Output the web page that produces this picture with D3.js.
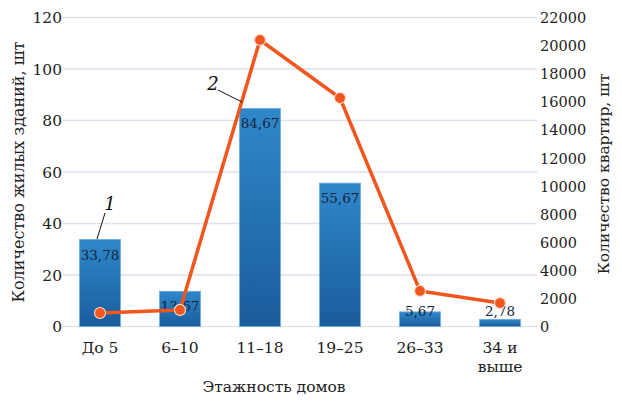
<!DOCTYPE html>
<html><head><meta charset="utf-8">
<script src="https://cdn.jsdelivr.net/npm/d3@7"></script>
<style>
html,body{margin:0;padding:0;background:#fff;}
</style>
</head><body>
<svg id="chart" width="622" height="402"></svg>
<script>
const categories = ["До 5", "6–10", "11–18", "19–25", "26–33", "34 и выше"];
const buildings = [33.78, 13.67, 84.67, 55.67, 5.67, 2.78];
const apartments = [960, 1180, 20400, 16270, 2530, 1670];
const leftTicks = [0, 20, 40, 60, 80, 100, 120];
const rightTicks = [0, 2000, 4000, 6000, 8000, 10000, 12000, 14000, 16000, 18000, 20000, 22000];

const FONT = "'DejaVu Serif', 'Liberation Serif', serif";
const svg = d3.select("#chart").attr("font-family", FONT);
const x = d3.scaleBand().domain(categories).range([60, 540]).paddingInner(0.49).paddingOuter(0.245);
const yL = d3.scaleLinear().domain([0, 120]).range([326.5, 17.5]);
const yR = d3.scaleLinear().domain([0, 22000]).range([326.5, 17.5]);

const defs = svg.append("defs");
const g = defs.append("linearGradient").attr("id","barG").attr("x1",0).attr("y1",0).attr("x2",0).attr("y2",1);
g.append("stop").attr("offset","0%").attr("stop-color","#2f88cb");
g.append("stop").attr("offset","100%").attr("stop-color","#1a5c9c");

svg.append("g").selectAll("line").data(leftTicks).join("line")
  .attr("x1", 63).attr("x2", 537)
  .attr("y1", d => yL(d)).attr("y2", d => yL(d))
  .attr("stroke", "#dbe2ec").attr("stroke-width", 1.5);

const axL = svg.append("g").attr("transform","translate(62,0)")
  .call(d3.axisLeft(yL).tickValues(leftTicks).tickSize(0).tickPadding(0).tickFormat(d3.format("d")));
axL.attr("font-family", FONT).attr("font-size", 15.5);
axL.select(".domain").remove();
axL.selectAll("text").attr("fill", "#222").attr("dy","0.35em");

const axR = svg.append("g").attr("transform","translate(540,0)")
  .call(d3.axisRight(yR).tickValues(rightTicks).tickSize(0).tickPadding(0).tickFormat(d3.format("d")));
axR.attr("font-family", FONT).attr("font-size", 14.5);
axR.select(".domain").remove();
axR.selectAll("text").attr("fill", "#222").attr("dy","0.35em");

svg.append("g").selectAll("rect").data(categories).join("rect")
  .attr("x", d => x(d)).attr("width", x.bandwidth())
  .attr("y", (d,i) => yL(buildings[i])).attr("height", (d,i) => yL(0) - yL(buildings[i]))
  .attr("fill", "url(#barG)").attr("stroke", "#6fa9d8").attr("stroke-width", 0.8);

svg.append("g").selectAll("text").data(categories).join("text")
  .attr("x", d => x(d) + x.bandwidth()/2)
  .attr("y", (d,i) => Math.min(yL(buildings[i]) + 20, 316))
  .attr("text-anchor", "middle").attr("font-size", 13.5).attr("fill", "#14243a")
  .text((d,i) => d3.format(".2f")(buildings[i]).replace(".", ","));

const line = d3.line().x((d,i) => x(categories[i]) + x.bandwidth()/2).y(d => yR(d));
svg.append("path").datum(apartments).attr("d", line)
  .attr("fill","none").attr("stroke","#f0561e").attr("stroke-width",3.5).attr("stroke-linejoin","round");
svg.append("g").selectAll("circle").data(apartments).join("circle")
  .attr("cx", (d,i) => x(categories[i]) + x.bandwidth()/2).attr("cy", d => yR(d))
  .attr("r", 5.5).attr("fill", "#f0561e").attr("stroke", "#fbd9c8").attr("stroke-width", 1.2);

const xl = svg.append("g").selectAll("text").data(categories).join("text")
  .attr("x", d => x(d) + x.bandwidth()/2).attr("y", 353)
  .attr("text-anchor","middle").attr("font-size",15.5).attr("fill","#222");
xl.each(function(d){
  const t = d3.select(this);
  if (d === "34 и выше") {
    t.append("tspan").attr("x", x(d) + x.bandwidth()/2).text("34 и");
    t.append("tspan").attr("x", x(d) + x.bandwidth()/2).attr("dy", 19).text("выше");
  } else t.text(d);
});

svg.append("text").attr("x", 274).attr("y", 392).attr("text-anchor","middle")
  .attr("font-size",15.5).attr("fill","#222").text("Этажность домов");
svg.append("text").attr("transform","translate(24,172) rotate(-90)").attr("text-anchor","middle")
  .attr("font-size",16).attr("fill","#222").text("Количество жилых зданий, шт");
svg.append("text").attr("transform","translate(609,174) rotate(-90)").attr("text-anchor","middle")
  .attr("font-size",15.5).attr("fill","#222").text("Количество квартир, шт");

svg.append("line").attr("x1",105).attr("y1",213).attr("x2",97).attr("y2",239).attr("stroke","#111").attr("stroke-width",1);
svg.append("text").attr("x",110).attr("y",210).attr("text-anchor","middle").attr("font-size",18)
  .attr("font-style","italic").attr("fill","#111").text("1");
svg.append("line").attr("x1",218).attr("y1",90).attr("x2",242).attr("y2",102).attr("stroke","#111").attr("stroke-width",1);
svg.append("text").attr("x",213).attr("y",90).attr("text-anchor","middle").attr("font-size",18)
  .attr("font-style","italic").attr("fill","#111").text("2");
</script>
</body></html>
